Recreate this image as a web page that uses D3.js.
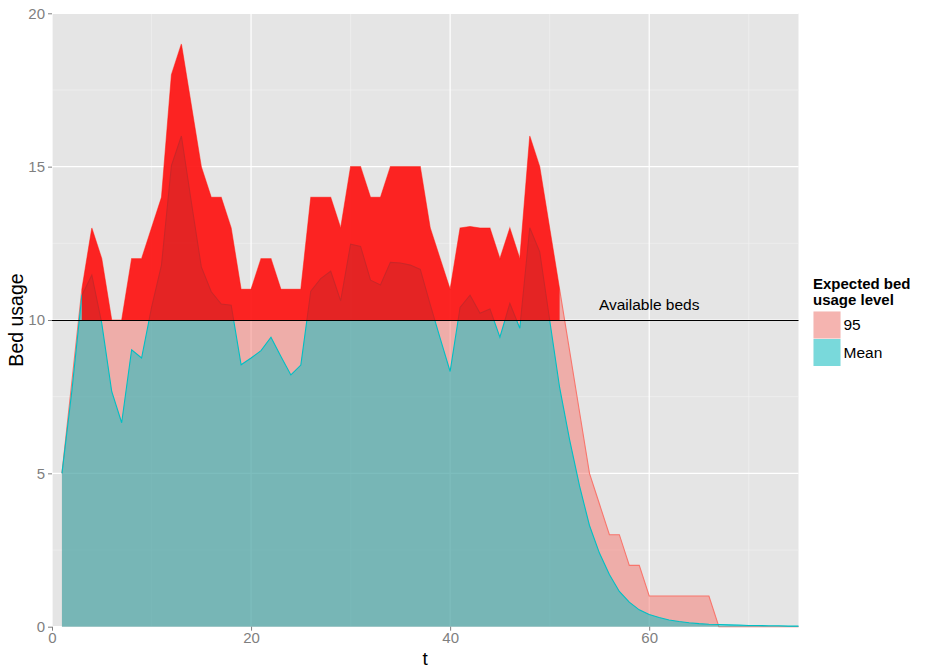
<!DOCTYPE html>
<html><head><meta charset="utf-8">
<script src="https://cdn.jsdelivr.net/npm/d3@7"></script>
<style>body{margin:0;background:#fff;} text{font-family:"Liberation Sans",Arial,Helvetica,sans-serif;}</style>
</head><body>
<svg id="c" width="925" height="669"></svg>
<script>
const tValues = [1,2,3,4,5,6,7,8,9,10,11,12,13,14,15,16,17,18,19,20,21,22,23,24,25,26,27,28,29,30,31,32,33,34,35,36,37,38,39,40,41,42,43,44,45,46,47,48,49,50,51,52,53,54,55,56,57,58,59,60,61,62,63,64,65,66,67,68,69,70,71,72,73,74,75];
const q95 = [5,8,11,13,12,10,10,12,12,13, 14,18,19,17,15,14,14,13,11,11, 12,12,11,11,11,14,14,14,13,15, 15,14,14,15,15,15,15,13,12,11, 13,13.05,13,13,12,13,12,16,15,13, 11,9,7,5,4,3,3,2,2,1, 1,1,1,1,1,1,0,0,0,0, 0,0,0,0,0];
const meanUsage = [5,7.7,10.8,11.46,9.89,7.67,6.65,9.03,8.76,10.4, 11.79,15.03,16.0,13.84,11.73,10.92,10.52,10.48,8.54,8.76, 9.0,9.44,8.81,8.21,8.53,10.94,11.35,11.59,10.62,12.47, 12.4,11.3,11.14,11.88,11.86,11.79,11.65,10.5,9.4,8.32, 10.41,10.81,10.22,10.36,9.44,10.54,9.73,13.01,12.22,10.0, 7.8,6.1,4.59,3.3,2.4,1.7,1.15,0.8,0.55,0.4, 0.3,0.22,0.17,0.13,0.1,0.08,0.07,0.06,0.05,0.04, 0.04,0.03,0.03,0.02,0.02];
const availableBeds = 10;
const xTicks = [0,20,40,60];
const yTicks = [0,5,10,15,20];
const xMinor = [10,30,50,70];
const yMinor = [2.5,7.5,12.5,17.5];
const seriesNames = ["95","Mean"];
const seriesColors = ["#F8766D","#00BFC4"];

const svg = d3.select("#c");
const L=52, R=798.5, T=13.3, B=626.7;
const x = d3.scaleLinear().domain([0,75]).range([L,R]);
const y = d3.scaleLinear().domain([0,20]).range([B,T]);

svg.append("rect").attr("x",L).attr("y",T).attr("width",R-L).attr("height",B-T).attr("fill","#E5E5E5");
const g = svg.append("g");
yMinor.forEach(v=>g.append("line").attr("x1",L).attr("x2",R).attr("y1",y(v)).attr("y2",y(v)).attr("stroke","#F2F2F2").attr("stroke-width",0.6));
xMinor.forEach(v=>g.append("line").attr("y1",T).attr("y2",B).attr("x1",x(v)).attr("x2",x(v)).attr("stroke","#F2F2F2").attr("stroke-width",0.6));
yTicks.forEach(v=>g.append("line").attr("x1",L).attr("x2",R).attr("y1",y(v)).attr("y2",y(v)).attr("stroke","#FFFFFF").attr("stroke-width",1.2));
xTicks.forEach(v=>g.append("line").attr("y1",T).attr("y2",B).attr("x1",x(v)).attr("x2",x(v)).attr("stroke","#FFFFFF").attr("stroke-width",1.2));

const data = tValues.map((t,i)=>({t, q:q95[i], m:meanUsage[i]}));
const area = key => d3.area().x(d=>x(d.t)).y0(y(0)).y1(d=>y(d[key]));
const line = key => d3.line().x(d=>x(d.t)).y(d=>y(d[key]));

svg.append("path").datum(data).attr("d",area("q")).attr("fill","#F8766D").attr("fill-opacity",0.5);
svg.append("path").datum(data).attr("d",line("q")).attr("fill","none").attr("stroke","#F8766D").attr("stroke-width",1.1);
svg.append("path").datum(data).attr("d",area("m")).attr("fill","#00BFC4").attr("fill-opacity",0.5);
svg.append("path").datum(data).attr("d",line("m")).attr("fill","none").attr("stroke","#00BFC4").attr("stroke-width",1.1);

const over = data.filter(d=>d.q>=availableBeds);
svg.append("path").datum(over)
  .attr("d",d3.area().x(d=>x(d.t)).y0(y(availableBeds)).y1(d=>y(d.q)))
  .attr("fill","#FF0000").attr("fill-opacity",0.8);

svg.append("line").attr("x1",L).attr("x2",R).attr("y1",y(availableBeds)+0.5).attr("y2",y(availableBeds)+0.5).attr("stroke","#000").attr("stroke-width",1.1);
svg.append("text").attr("x",x(60)).attr("y",y(10.5)).attr("dy","0.35em").attr("text-anchor","middle").attr("font-size",15.5).attr("fill","#000").text("Available beds");

// axes
const xAxis = svg.append("g").attr("transform",`translate(0,${B})`).call(d3.axisBottom(x).tickValues(xTicks).tickSize(4).tickPadding(2));
const yAxis = svg.append("g").attr("transform",`translate(${L},0)`).call(d3.axisLeft(y).tickValues(yTicks).tickSize(4).tickPadding(3));
[xAxis,yAxis].forEach(a=>{a.select(".domain").remove();a.selectAll(".tick line").attr("stroke","#7F7F7F");a.selectAll(".tick text").attr("fill","#7F7F7F").attr("font-size",15).attr("font-family","Liberation Sans, Arial, sans-serif");});

svg.append("text").attr("x",(L+R)/2).attr("y",665).attr("text-anchor","middle").attr("font-size",19).attr("fill","#000").text("t");
svg.append("text").attr("transform",`translate(23,${(T+B)/2}) rotate(-90)`).attr("text-anchor","middle").attr("font-size",19.5).attr("fill","#000").text("Bed usage");

// legend
const lg = svg.append("g");
lg.append("text").attr("x",813).attr("y",288.5).attr("font-size",15).attr("font-weight","bold").text("Expected bed");
lg.append("text").attr("x",813).attr("y",305).attr("font-size",15).attr("font-weight","bold").text("usage level");
seriesNames.forEach((n,i)=>{
  const ky = 311.5 + i*27.5;
  lg.append("rect").attr("x",813.5).attr("y",ky).attr("width",27).attr("height",27).attr("fill","#F2F2F2");
  lg.append("rect").attr("x",813.5).attr("y",ky).attr("width",27).attr("height",27).attr("fill",seriesColors[i]).attr("fill-opacity",0.5);
  lg.append("text").attr("x",843.5).attr("y",ky+13.5).attr("dy","0.35em").attr("font-size",15.5).text(n);
});
</script>
</body></html>
